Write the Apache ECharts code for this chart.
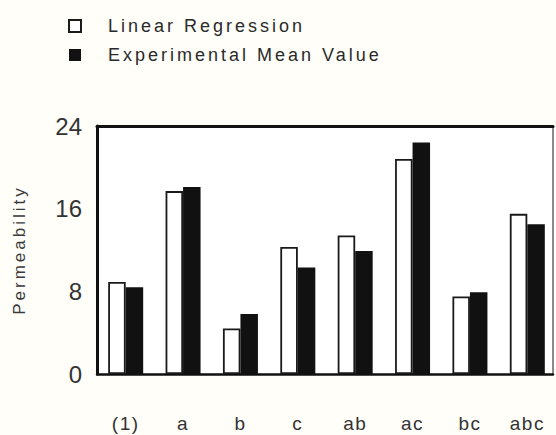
<!DOCTYPE html>
<html>
<head>
<meta charset="utf-8">
<script src="https://cdn.jsdelivr.net/npm/echarts@6/dist/echarts.min.js"></script>
<style>
html,body{margin:0;padding:0;background:#fffef9;}
#chart{width:556px;height:435px;}
</style>
</head>
<body>
<div id="chart"></div>
<script>
const categories = ['(1)', 'a', 'b', 'c', 'ab', 'ac', 'bc', 'abc'];
const linearRegression = [8.9, 17.7, 4.4, 12.3, 13.4, 20.8, 7.5, 15.5];
const experimentalMean = [8.4, 18.1, 5.8, 10.3, 11.9, 22.4, 7.9, 14.5];
const yTicks = [0, 8, 16, 24];
const legendNames = ['Linear Regression', 'Experimental Mean Value'];
const yAxisTitle = 'Permeability';

const FONT = 'Liberation Sans, Arial, sans-serif';
const frameAxis = function (extra) {
  return Object.assign({
    gridIndex: 1, type: 'value', min: 0, max: 1,
    axisTick: {show: false}, axisLabel: {show: false}, splitLine: {show: false}
  }, extra);
};

const chart = echarts.init(document.getElementById('chart'), null, {renderer: 'svg'});
chart.setOption({
  backgroundColor: '#fffef9',
  animation: false,
  legend: {
    orient: 'vertical',
    left: 63,
    top: 12,
    itemWidth: 12,
    itemHeight: 12,
    itemGap: 11,
    icon: 'rect',
    textStyle: {
      fontFamily: FONT,
      fontSize: 18,
      color: '#2a2a2a',
      padding: [0, 0, 0, 22],
      lineHeight: 18
    },
    data: legendNames
  },
  grid: [
    {left: 97, right: 0, top: 126, bottom: 61, show: true, borderWidth: 0, backgroundColor: '#ffffff'},
    {left: 97, right: 3, top: 126, bottom: 61, show: false}
  ],
  xAxis: [
    {
      gridIndex: 0,
      type: 'category',
      data: categories,
      axisLine: {show: false},
      axisTick: {show: false},
      axisLabel: {margin: 40, fontFamily: FONT, fontSize: 19, color: '#333'}
    },
    frameAxis({position: 'bottom', axisLine: {show: true, onZero: false, lineStyle: {color: '#111', width: 2.5}}}),
    frameAxis({position: 'top', axisLine: {show: true, onZero: false, lineStyle: {color: '#111', width: 3}}})
  ],
  yAxis: [
    {
      gridIndex: 0,
      type: 'value',
      min: 0,
      max: 24,
      interval: 8,
      name: yAxisTitle,
      nameLocation: 'middle',
      nameGap: 69,
      nameTextStyle: {fontFamily: FONT, fontSize: 17, color: '#3a3a3a'},
      axisLine: {show: false},
      axisTick: {show: false},
      splitLine: {show: false},
      axisLabel: {
        margin: 15,
        fontFamily: FONT,
        fontSize: 24,
        color: '#333',
        formatter: function (v) { return yTicks.indexOf(v) >= 0 ? String(v) : ''; }
      }
    },
    frameAxis({position: 'left', axisLine: {show: true, onZero: false, lineStyle: {color: '#111', width: 3}}}),
    frameAxis({position: 'right', axisLine: {show: true, onZero: false, lineStyle: {color: '#666', width: 1.5}}})
  ],
  series: [
    {
      name: legendNames[0],
      type: 'bar',
      xAxisIndex: 0,
      yAxisIndex: 0,
      data: linearRegression,
      barGap: '0%',
      barCategoryGap: '39%',
      itemStyle: {color: '#ffffff', borderColor: '#1a1a1a', borderWidth: 1.8}
    },
    {
      name: legendNames[1],
      type: 'bar',
      xAxisIndex: 0,
      yAxisIndex: 0,
      data: experimentalMean,
      itemStyle: {color: '#111111', borderWidth: 0}
    }
  ]
});

function applyTracking() {
  document.querySelectorAll('#chart text').forEach(function (t) {
    const s = (t.textContent || '').trim();
    let sp = 0;
    if (legendNames.indexOf(s) >= 0 || s === yAxisTitle) sp = 3;
    else if (categories.indexOf(s) >= 0) sp = 1.5;
    t.setAttribute('letter-spacing', sp + 'px');
  });
}
chart.getZr().refreshImmediately();
applyTracking();
chart.on('finished', applyTracking);
setTimeout(applyTracking, 50);
</script>
</body>
</html>
